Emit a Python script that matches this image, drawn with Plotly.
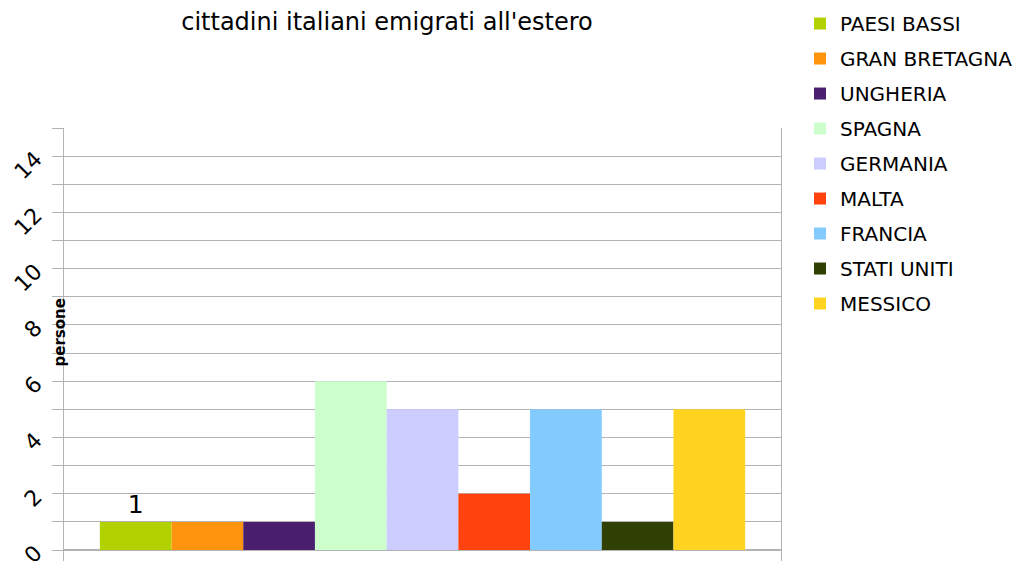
import plotly.graph_objects as go

paesi = ["PAESI BASSI", "GRAN BRETAGNA", "UNGHERIA", "SPAGNA", "GERMANIA",
         "MALTA", "FRANCIA", "STATI UNITI", "MESSICO"]
persone = [1, 1, 1, 6, 5, 2, 5, 1, 5]
colori = ["#b2d100", "#ff950e", "#4b1f6f", "#ccffcc", "#ccccff",
          "#ff420e", "#83caff", "#314004", "#ffd320"]
etichette = ["1", "", "", "", "", "", "", "", ""]

FONT = "DejaVu Sans"

fig = go.Figure()
for nome, val, col, lab in zip(paesi, persone, colori, etichette):
    fig.add_trace(go.Bar(
        x=[""], y=[val], name=nome, legendgroup=nome,
        marker=dict(color=col, line=dict(width=0)),
        text=[lab] if lab else None,
        textposition="outside",
        textfont=dict(size=25, color="#000000", family=FONT),
        cliponaxis=False,
        hoverinfo="name+y",
    ))

fig.update_layout(
    width=1018, height=561,
    margin=dict(l=64, r=237, t=128, b=0, autoexpand=False),
    plot_bgcolor="white", paper_bgcolor="white",
    barmode="group", bargap=0.1, bargroupgap=0,
    font=dict(family=FONT, color="#000000"),
    title=dict(text="cittadini italiani emigrati all'estero",
               x=387 / 1018, xanchor="center", y=1 - 22 / 561, yanchor="middle",
               font=dict(size=24, family=FONT)),
    legend=dict(x=1.0265, xanchor="left", y=1.2863, yanchor="top",
                traceorder="grouped", tracegroupgap=6, maxheight=520,
                font=dict(size=20, family=FONT), itemwidth=30),
    xaxis=dict(showticklabels=False, showgrid=False, zeroline=False,
               showline=False, ticks="", automargin=False),
    yaxis=dict(range=[-0.39, 15], dtick=2, tick0=0, automargin=False,
               tickangle=-45, tickfont=dict(size=22, family=FONT),
               ticklabelstandoff=12, ticklabeloverflow="allow",
               showgrid=True, gridcolor="#b3b3b3", gridwidth=1,
               minor=dict(dtick=1, showgrid=True, gridcolor="#b3b3b3",
                          ticks="outside", ticklen=11, tickcolor="#b3b3b3"),
               ticks="outside", ticklen=11, tickcolor="#b3b3b3",
               showline=True, linecolor="#b3b3b3", linewidth=1, mirror=True,
               zeroline=True, zerolinecolor="#b3b3b3", zerolinewidth=2),
    annotations=[dict(text="<b>persone</b>", x=-0.006, y=0.527,
                      xref="paper", yref="paper", xanchor="center",
                      yanchor="middle", textangle=-90,
                      showarrow=False, font=dict(size=15, family=FONT))],
)

fig.write_html("out.html", config={"displayModeBar": False},
               post_script="document.body.style.margin='0';")
